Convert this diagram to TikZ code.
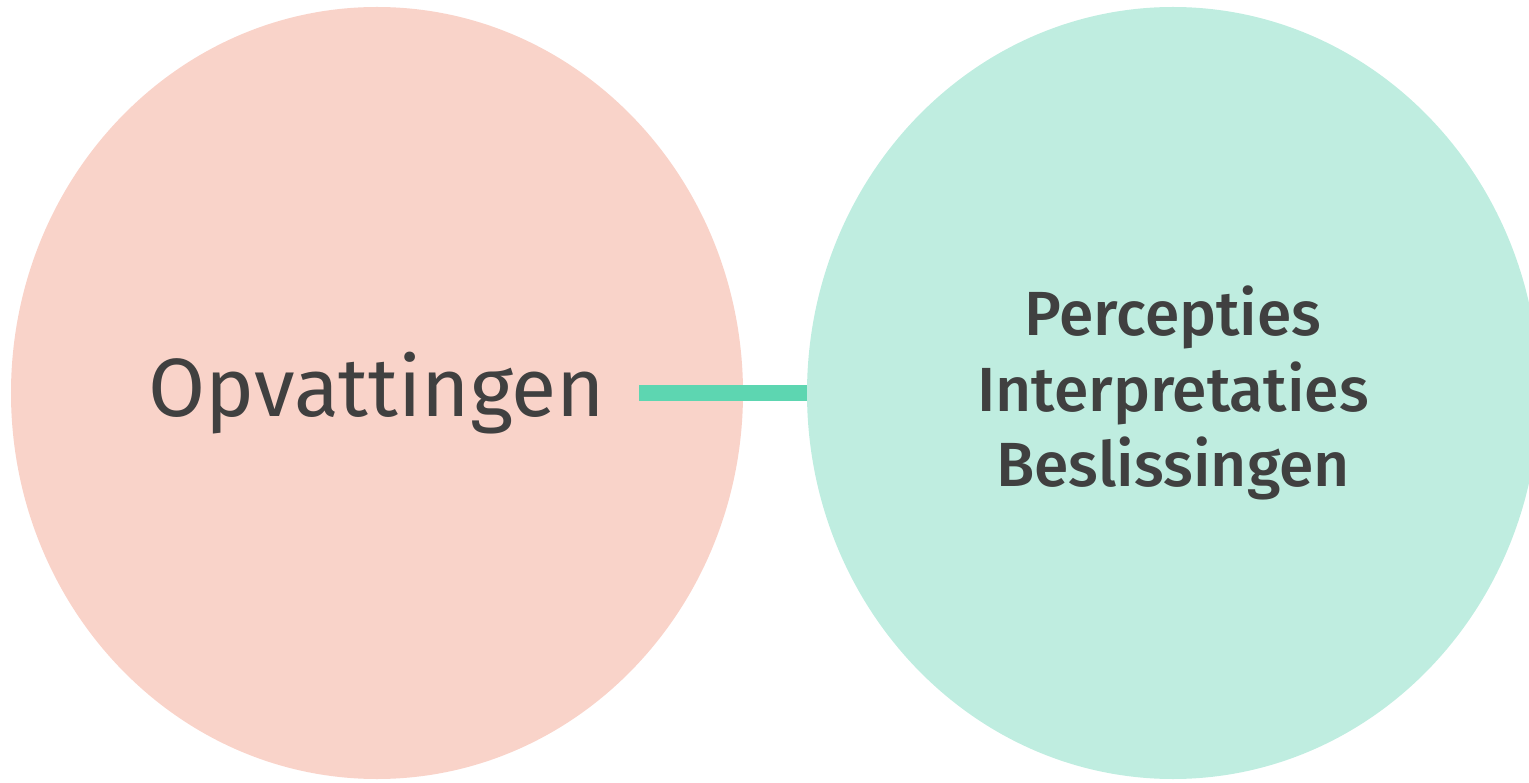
\documentclass[tikz,border=0pt]{standalone}
\usepackage{fontspec}
\setmainfont{Fira Sans}
\newfontfamily\mediumfont{Fira Sans Medium}
\usepackage{tikz}
\usetikzlibrary{shapes, positioning}
\definecolor{pinkfill}{HTML}{F9D3C9}
\definecolor{tealfill}{HTML}{BFEDE0}
\definecolor{tealline}{HTML}{5DD6B1}
\definecolor{textgray}{HTML}{404040}

\begin{document}
\begin{tikzpicture}[circ/.style={ellipse, inner sep=0pt, outer sep=0pt, minimum width=14.64cm, minimum height=15.44cm, text=textgray, align=center}]
			\useasboundingbox (0,0) rectangle (30.58,15.64);
			\node[circ, fill=pinkfill, font=\fontsize{47}{56}\selectfont] (opv) at (7.54,7.78) {Opvattingen};
			\node[circ, fill=tealfill, font=\mediumfont\fontsize{35.5}{43.2}\selectfont] (pib) at (23.46,7.78) {Percepties\\Interpretaties\\Beslissingen};
			\coordinate (start) at (12.78,7.78);
			\draw[tealline, line width=0.32cm] (start) -- (pib.west);
		\end{tikzpicture}
\end{document}
